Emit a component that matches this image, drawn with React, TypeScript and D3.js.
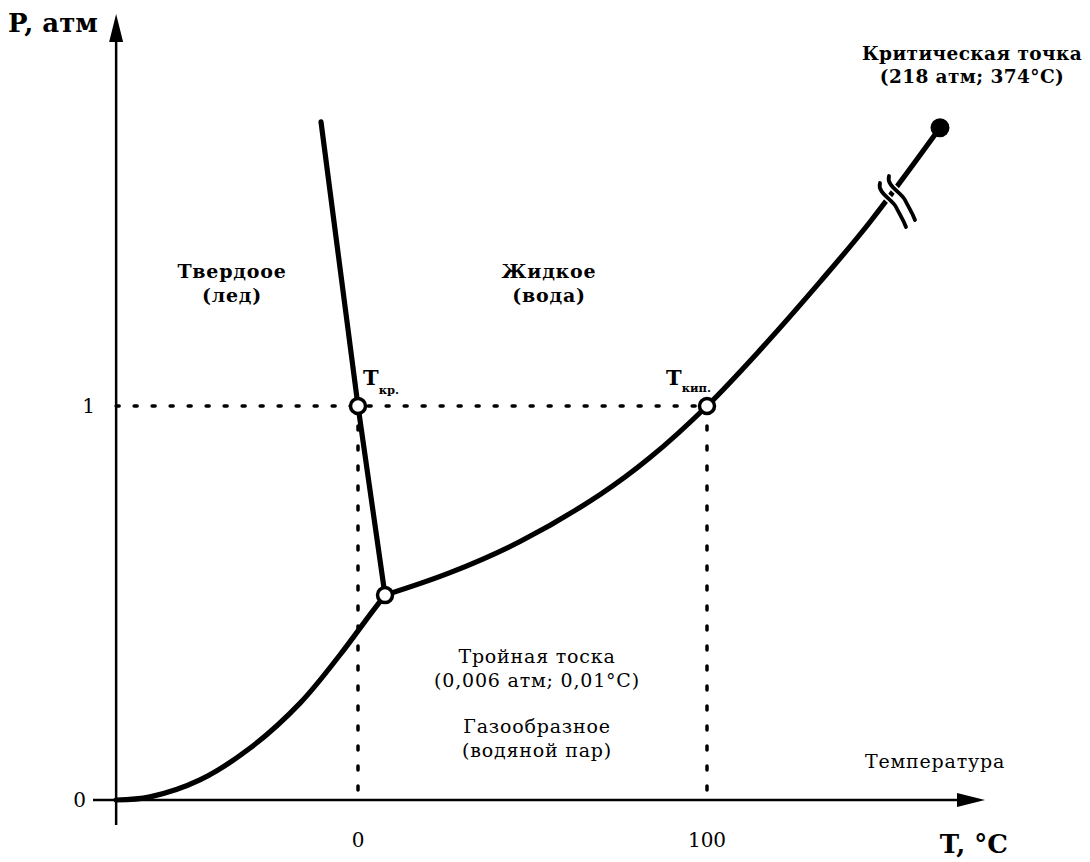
import React from "react";
import * as d3 from "d3";

// Schematic diagram units: T in °C (x), P in atm (y, schematic)
const sublimationT = [-69.3, -59.6, -45.3, -30.9, -16.6, -5.2, 3.4, 7.74];
const sublimationP = [0, 0.008, 0.051, 0.132, 0.246, 0.368, 0.47, 0.52];
const vaporT = [7.74, 26.36, 46.42, 69.34, 83.67, 100, 115.19, 132.38, 146.7, 166.76];
const vaporP = [0.52, 0.577, 0.656, 0.775, 0.869, 1, 1.142, 1.315, 1.467, 1.706];
const meltingT = [-10.6, 0, 7.74];
const meltingP = [1.721, 1, 0.52];
const openPoints = [
  { t: 0, p: 1 },
  { t: 100, p: 1 },
  { t: 7.74, p: 0.52 },
];
const criticalPoint = { t: 166.76, p: 1.706 };
const xTicks = [0, 100];
const yTicks = [0, 1];

const FONT = "'DejaVu Serif', serif";

export default function App() {
  const x = d3.scaleLinear().domain([0, 100]).range([358, 707]);
  const y = d3.scaleLinear().domain([0, 1]).range([800, 406]);
  const x0 = x(-69.3); // y axis position
  const y0 = y(0);

  const line = d3
    .line<[number, number]>()
    .x((d) => x(d[0]))
    .y((d) => y(d[1]))
    .curve(d3.curveCatmullRom.alpha(0.5));
  const lineLin = d3
    .line<[number, number]>()
    .x((d) => x(d[0]))
    .y((d) => y(d[1]));

  const subl = sublimationT.map((t, i) => [t, sublimationP[i]] as [number, number]);
  const vap = vaporT.map((t, i) => [t, vaporP[i]] as [number, number]);
  const melt = meltingT.map((t, i) => [t, meltingP[i]] as [number, number]);

  const axisTop = 14;
  const axisRight = 985;

  // break marks near the vapour curve
  const bx = 880;
  const by = 183;
  const breakPath = (dx: number, dy: number) =>
    `M${bx + dx},${by + dy} C${bx + dx - 3},${by + dy + 10} ${bx + dx + 12},${by + dy + 16} ${bx + dx + 16},${by + dy + 24} S${bx + dx + 23},${by + dy + 36} ${bx + dx + 26},${by + dy + 44}`;

  const normal = { fontSize: 19, letterSpacing: 0.8 };
  const bold = { fontSize: 19, letterSpacing: 0.8, fontWeight: "bold" as const };

  return (
    <div style={{ position: "absolute", left: 0, top: 0 }}>
      <svg width={1090} height={862} style={{ display: "block", background: "#fff" }}>
        {/* dashed guide lines */}
        <g stroke="#000" strokeWidth={3.5} fill="none" strokeLinecap="round">
          <line x1={x0} x2={x(100)} y1={y(1)} y2={y(1)} strokeDasharray="3 15" />
          <line x1={x(0)} x2={x(0)} y1={y(1)} y2={y0} strokeDasharray="4 16" />
          <line x1={x(100)} x2={x(100)} y1={y(1)} y2={y0} strokeDasharray="4 16" />
        </g>

        {/* axes */}
        <g stroke="#000" strokeWidth={2.5} fill="none">
          <line x1={x0} x2={x0} y1={825} y2={axisTop + 20} />
          <line x1={93} x2={axisRight - 20} y1={y0} y2={y0} />
        </g>
        <path
          d={`M${x0},${axisTop} L${x0 - 7},${axisTop + 28} L${x0 + 7},${axisTop + 28} Z`}
          fill="#000"
        />
        <path
          d={`M${axisRight},${y0} L${axisRight - 28},${y0 - 7} L${axisRight - 28},${y0 + 7} Z`}
          fill="#000"
        />

        {/* phase curves */}
        <g stroke="#000" strokeWidth={5.2} fill="none" strokeLinecap="round" strokeLinejoin="round">
          <path d={line(subl) ?? ""} />
          <path d={line(vap) ?? ""} />
          <path d={lineLin(melt) ?? ""} />
        </g>

        {/* break marks */}
        <g stroke="#000" strokeWidth={3.8} fill="none" strokeLinecap="round">
          <path d={breakPath(0, 0)} fill="none" stroke="#fff" strokeWidth={7} />
          <path d={breakPath(9, -7)} fill="none" stroke="#fff" strokeWidth={7} />
          <path d={breakPath(0, 0)} />
          <path d={breakPath(9, -7)} />
        </g>

        {/* points */}
        {openPoints.map((pt, i) => (
          <circle
            key={i}
            cx={x(pt.t)}
            cy={y(pt.p)}
            r={7.5}
            fill="#fff"
            stroke="#000"
            strokeWidth={3.5}
          />
        ))}
        <circle cx={x(criticalPoint.t)} cy={y(criticalPoint.p)} r={9.5} fill="#000" />

        {/* tick labels */}
        <g fontFamily={FONT} fontSize={20} fill="#000">
          {xTicks.map((t) => (
            <text key={t} x={x(t)} y={847} textAnchor="middle">
              {t}
            </text>
          ))}
          {yTicks.map((p) => (
            <text key={p} x={p === 0 ? 86 : 95} y={y(p) + 7} textAnchor="end">
              {p}
            </text>
          ))}
        </g>

        {/* axis titles */}
        <g fontFamily={FONT} fontWeight="bold" fontSize={26} fill="#000">
          <text x={8} y={32}>P, атм</text>
          <text x={1008} y={853} textAnchor="end">T, °C</text>
        </g>

        {/* labels */}
        <g fontFamily={FONT} fill="#000" textAnchor="middle">
          <text x={972} y={60} fontWeight="bold" fontSize={18.5} letterSpacing={0.4}>Критическая точка</text>
          <text x={972} y={83} fontWeight="bold" fontSize={18.5} letterSpacing={0.4}>(218 атм; 374°С)</text>
          <text x={232} y={278} {...bold}>Твердоое</text>
          <text x={232} y={302} {...bold}>(лед)</text>
          <text x={549} y={278} {...bold}>Жидкое</text>
          <text x={549} y={302} {...bold}>(вода)</text>
          <text x={537} y={663} {...normal}>Тройная тоска</text>
          <text x={537} y={687} {...normal}>(0,006 атм; 0,01°С)</text>
          <text x={537} y={733} {...normal}>Газообразное</text>
          <text x={537} y={757} {...normal}>(водяной пар)</text>
          <text x={935} y={768} {...normal}>Температура</text>
        </g>

        {/* T labels */}
        <g fontFamily={FONT} fill="#000" fontWeight="bold">
          <text x={363} y={385} fontSize={21}>
            T
            <tspan fontSize={11.5} dy={9}>кр.</tspan>
          </text>
          <text x={666} y={385} fontSize={21}>
            T
            <tspan fontSize={11.5} dy={7}>кип.</tspan>
          </text>
        </g>
      </svg>
    </div>
  );
}
